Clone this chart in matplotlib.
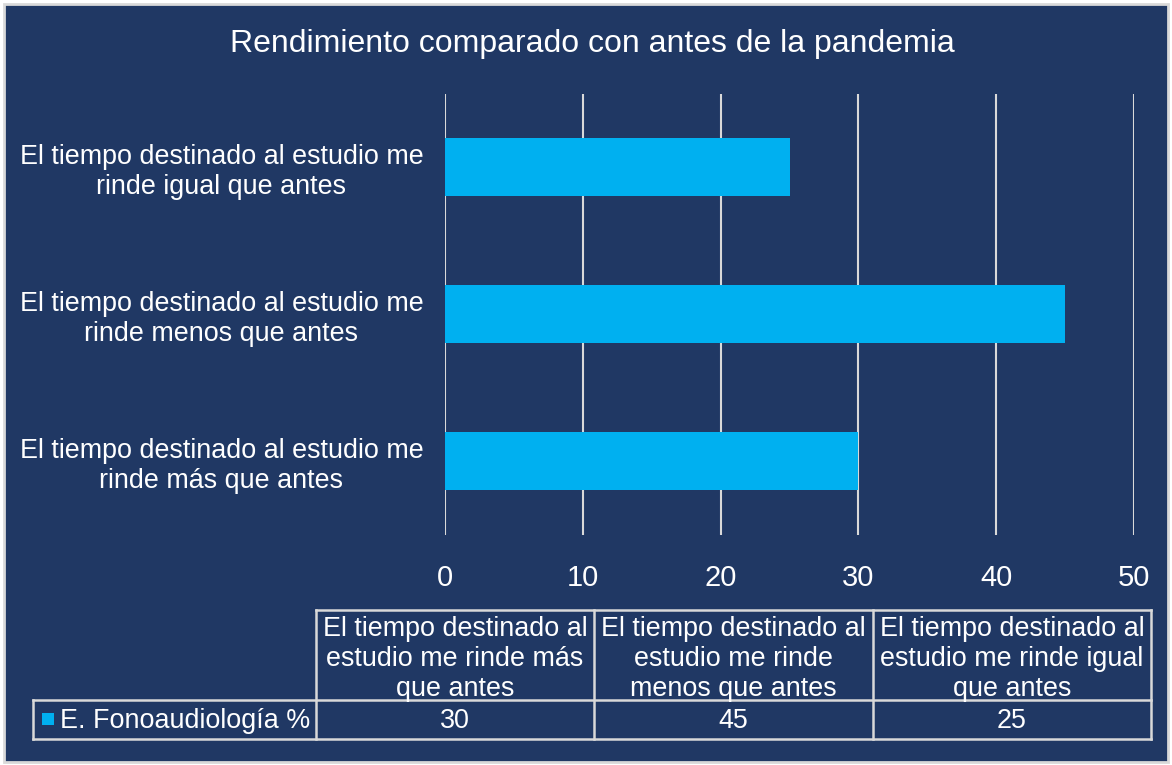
import matplotlib.pyplot as plt
from matplotlib.patches import Rectangle

plt.rcParams['font.family'] = ['Liberation Sans', 'DejaVu Sans']

categorias = ['El tiempo destinado al estudio me\nrinde más que antes',
              'El tiempo destinado al estudio me\nrinde menos que antes',
              'El tiempo destinado al estudio me\nrinde igual que antes']
encabezados = ['El tiempo destinado al\nestudio me rinde más\nque antes',
               'El tiempo destinado al\nestudio me rinde\nmenos que antes',
               'El tiempo destinado al\nestudio me rinde igual\nque antes']
valores = [30, 45, 25]
serie = 'E. Fonoaudiología %'
ticks = [0, 10, 20, 30, 40, 50]

W, H = 1172, 765
fondo = '#203864'
cian = '#00B0F0'
gris = '#D9D9D9'
fs = 19.4

fig = plt.figure(figsize=(W / 100, H / 100), dpi=100)
fig.patch.set_facecolor('white')

def fx(x):
    return x / W

def fy(y):
    return 1 - y / H

# fondo con borde gris
fig.patches.append(Rectangle((fx(4), fy(762)), fx(1168 - 4), (762 - 4) / H,
                             transform=fig.transFigure, facecolor=fondo,
                             edgecolor=gris, linewidth=2, zorder=-10))

fig.text(fx(592), fy(44), 'Rendimiento comparado con antes de la pandemia',
         color='white', fontsize=23, ha='center', va='center')

# ejes del grafico
x0, x1 = 445, 1134
y0, y1 = 93.5, 534.5
ax = fig.add_axes([fx(x0), fy(y1), fx(x1 - x0), (y1 - y0) / H])
ax.set_facecolor('none')
pos = range(len(categorias))
ax.barh(pos, valores, height=0.395, color=cian, zorder=2)
ax.set_xlim(0, 50)
ax.set_ylim(-0.5, 2.5)
ax.set_xticks(ticks)
ax.set_yticks(list(pos))
ax.set_yticklabels(categorias, fontsize=fs, color='white', ha='center',
                   linespacing=1.2)
ax.tick_params(axis='y', length=0, pad=161)
ax.tick_params(axis='x', length=0, pad=21, labelsize=21, labelcolor='white')
for t in ticks:
    ax.axvline(t, color=gris, linewidth=1.5, zorder=1)
for s in ax.spines.values():
    s.set_visible(False)

# tabla de datos
cols = [316, 594, 873, 1151]
ty0, ty1, ty2 = 610, 700, 739
lw = 1.8
def linea(xa, ya, xb, yb):
    fig.add_artist(plt.Line2D([fx(xa), fx(xb)], [fy(ya), fy(yb)],
                              color=gris, linewidth=lw))

linea(cols[0], ty0, cols[-1], ty0)
linea(33, ty1, cols[-1], ty1)
linea(33, ty2, cols[-1], ty2)
linea(33, ty1, 33, ty2)
for c in cols:
    linea(c, ty0, c, ty2)

for i, (enc, v) in enumerate(zip(encabezados, valores)):
    cx = (cols[i] + cols[i + 1]) / 2
    fig.text(fx(cx), fy((ty0 + ty1) / 2 + 4), enc, color='white', fontsize=fs,
             ha='center', va='center', linespacing=1.2)
    fig.text(fx(cx), fy((ty1 + ty2) / 2 + 2), str(v), color='white',
             fontsize=fs, ha='center', va='center')

fig.patches.append(Rectangle((fx(42), fy(725)), fx(12), 12 / H,
                             transform=fig.transFigure, facecolor=cian,
                             edgecolor='none'))
fig.text(fx(60), fy(721), serie, color='white', fontsize=fs, ha='left',
         va='center')

fig.savefig('out.png', dpi=100, facecolor=fig.get_facecolor())
